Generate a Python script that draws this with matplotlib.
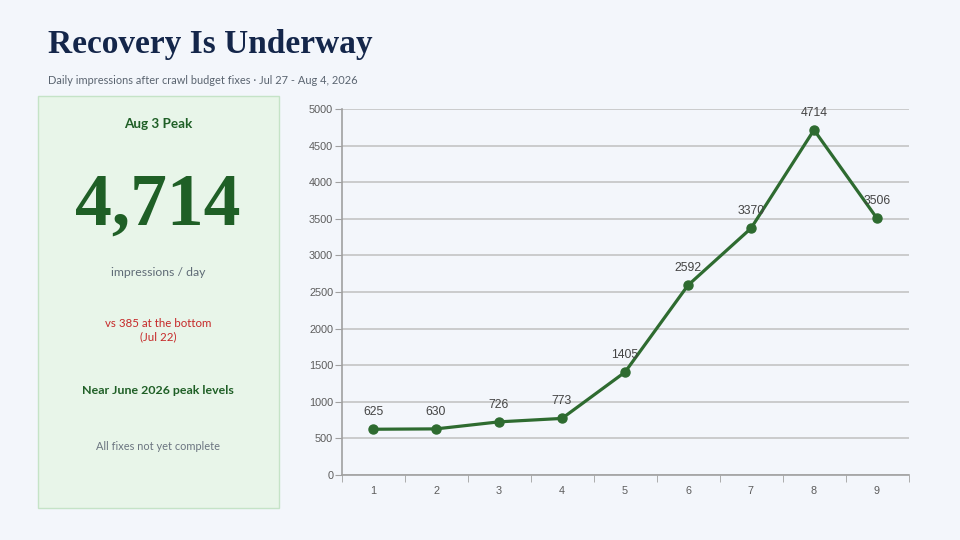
import matplotlib.pyplot as plt
from matplotlib.patches import Rectangle

days = [1, 2, 3, 4, 5, 6, 7, 8, 9]
impressions = [625, 630, 726, 773, 1405, 2592, 3370, 4714, 3506]
y_ticks = [0, 500, 1000, 1500, 2000, 2500, 3000, 3500, 4000, 4500, 5000]

BG = "#f3f6fb"
GREEN = "#1f5f26"
LINE = "#2e6b30"

fig = plt.figure(figsize=(9.6, 5.4), dpi=100, facecolor=BG)

# title block
fig.text(48 / 960, 1 - 44 / 540, "Recovery Is Underway", family="Liberation Serif",
         weight="bold", size=24, color="#14264a", va="center", ha="left")
fig.text(48 / 960, 1 - 81 / 540, "Daily impressions after crawl budget fixes \u00b7 Jul 27 - Aug 4, 2026",
         family="Lato", size=7.9, color="#5a6470", va="center", ha="left")

# summary card
card = Rectangle((38 / 960, 1 - 508 / 540), 241 / 960, 412 / 540, transform=fig.transFigure,
                 facecolor="#e8f5e9", edgecolor="#c5e3c7", linewidth=1)
fig.patches.append(card)
cx = 158 / 960
fig.text(cx, 1 - 124 / 540, "Aug 3 Peak", family="Lato", weight="bold", size=9.7,
         color=GREEN, ha="center", va="center")
fig.text(cx, 1 - 225 / 540, "4,714", family="Liberation Serif", weight="bold", size=53,
         color=GREEN, ha="center", va="baseline")
fig.text(cx, 1 - 273 / 540, "impressions / day", family="Lato", size=8.8,
         color="#5f6b76", ha="center", va="center")
fig.text(cx, 1 - 330 / 540, "vs 385 at the bottom\n(Jul 22)", family="Lato", size=8.3,
         color="#c62828", ha="center", va="center", linespacing=1.3)
fig.text(cx, 1 - 390 / 540, "Near June 2026 peak levels", family="Lato", weight="bold", size=8.9,
         color=GREEN, ha="center", va="center")
fig.text(cx, 1 - 446 / 540, "All fixes not yet complete", family="Lato", size=7.9,
         color="#6b7580", ha="center", va="center")

# line chart
ax = fig.add_axes([341.5 / 960, 65 / 540, 567 / 960, 366 / 540])
ax.set_facecolor(BG)
ax.plot(days, impressions, color=LINE, linewidth=2.3, marker="o", markersize=6.5,
        markerfacecolor=LINE, markeredgecolor=LINE, zorder=3)
for x, y in zip(days, impressions):
    ax.annotate(str(y), (x, y), xytext=(0, 8), textcoords="offset points",
                ha="center", va="bottom", family="Liberation Sans", size=8.8, color="#444444")

ax.set_xlim(0.5, 9.5)
ax.set_ylim(0, 5000)
ax.set_yticks(y_ticks)
ax.set_xticks(days)
ax.set_xticks([d + 0.5 for d in [0] + days], minor=True)
ax.grid(axis="y", color="#c4c4c4", linewidth=1.2)
ax.set_axisbelow(True)
for side in ["top", "right"]:
    ax.spines[side].set_visible(False)
for side in ["left", "bottom"]:
    ax.spines[side].set_color("#a0a0a0")
    ax.spines[side].set_linewidth(1.2)
ax.tick_params(axis="y", length=5, pad=1, color="#a0a0a0", labelsize=7.8, labelcolor="#5c5c5c")
ax.tick_params(axis="x", which="major", length=0, labelsize=7.8, labelcolor="#5c5c5c", pad=8)
ax.tick_params(axis="x", which="minor", length=5, color="#a0a0a0")
for lab in ax.get_xticklabels() + ax.get_yticklabels():
    lab.set_family("Liberation Sans")

fig.savefig("out.png", dpi=100, facecolor=BG)
